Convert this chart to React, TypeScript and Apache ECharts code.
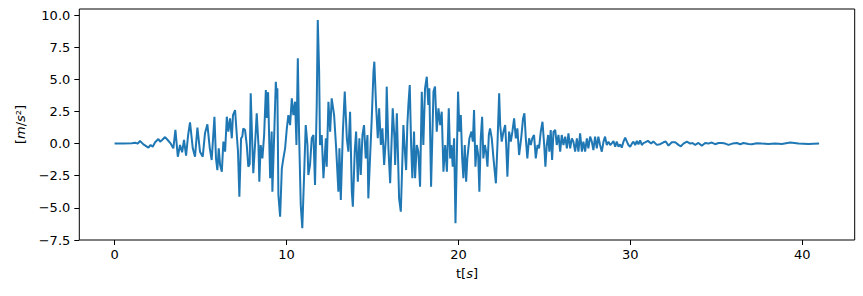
import React, { useEffect, useRef } from "react";
import * as echarts from "echarts";

const X_TICKS = [0, 10, 20, 30, 40];
const Y_TICKS = [-7.5, -5, -2.5, 0, 2.5, 5, 7.5, 10];

const T = [
  0, 0.5, 1.0, 1.2, 1.35, 1.48, 1.68, 1.97, 2.1, 2.22, 2.36, 2.55, 2.65, 2.78, 2.94, 3.09, 3.27, 3.42, 3.54, 3.68,
  3.81, 3.93, 4.04, 4.16, 4.28, 4.39, 4.55, 4.68, 4.82, 4.97, 5.13, 5.26, 5.4, 5.54, 5.65, 5.81, 5.9, 5.98, 6.06, 6.14,
  6.24, 6.33, 6.43, 6.53, 6.62, 6.72, 6.82, 6.89, 7.01, 7.11, 7.18, 7.26, 7.36, 7.43, 7.49, 7.59, 7.69, 7.78, 7.86, 7.92,
  8.0, 8.07, 8.17, 8.27, 8.37, 8.42, 8.5, 8.6, 8.7, 8.8, 8.86, 8.93, 9.05, 9.14, 9.18, 9.28, 9.38, 9.44, 9.47, 9.53,
  9.63, 9.73, 9.82, 9.92, 10.02, 10.11, 10.21, 10.31, 10.4, 10.5, 10.58, 10.66, 10.73, 10.83, 10.92, 11.02, 11.12, 11.22, 11.27, 11.37,
  11.47, 11.57, 11.66, 11.76, 11.82, 11.9, 11.95, 12.05, 12.15, 12.29, 12.34, 12.44, 12.54, 12.63, 12.77, 12.89, 13.02, 13.08, 13.16, 13.28,
  13.39, 13.51, 13.6, 13.7, 13.8, 13.86, 13.97, 14.05, 14.15, 14.24, 14.32, 14.42, 14.51, 14.61, 14.71, 14.76, 14.86, 14.96, 15.06, 15.11,
  15.21, 15.31, 15.39, 15.49, 15.58, 15.68, 15.78, 15.83, 15.93, 16.03, 16.12, 16.18, 16.28, 16.32, 16.42, 16.47, 16.55, 16.65, 16.71, 16.8,
  16.9, 16.96, 17.03, 17.09, 17.17, 17.25, 17.32, 17.42, 17.48, 17.58, 17.67, 17.77, 17.87, 17.96, 18.06, 18.16, 18.25, 18.31, 18.41, 18.55,
  18.64, 18.74, 18.84, 18.94, 19.03, 19.13, 19.23, 19.33, 19.44, 19.52, 19.59, 19.67, 19.75, 19.83, 19.91, 19.98, 20.06, 20.14, 20.22, 20.29,
  20.37, 20.45, 20.52, 20.64, 20.76, 20.84, 20.91, 20.99, 21.07, 21.15, 21.22, 21.3, 21.38, 21.45, 21.54, 21.61, 21.69, 21.77, 21.84, 21.94,
  22.04, 22.18, 22.27, 22.37, 22.43, 22.52, 22.62, 22.72, 22.78, 22.85, 22.95, 23.05, 23.14, 23.24, 23.34, 23.43, 23.53, 23.65, 23.76, 23.84,
  23.92, 24.01, 24.11, 24.21, 24.3, 24.4, 24.5, 24.6, 24.69, 24.79, 24.89, 24.99, 25.06, 25.14, 25.22, 25.29, 25.37, 25.45, 25.53, 25.63,
  25.72, 25.82, 25.92, 26.01, 26.11, 26.21, 26.31, 26.4, 26.5, 26.6, 26.69, 26.79, 26.89, 26.98, 27.08, 27.18, 27.27, 27.37, 27.47, 27.56,
  27.66, 27.76, 27.85, 27.95, 28.05, 28.14, 28.24, 28.34, 28.44, 28.53, 28.63, 28.73, 28.83, 28.92, 29.02, 29.12, 29.21, 29.31, 29.41, 29.5,
  29.6, 29.7, 29.8, 29.89, 29.99, 30.09, 30.18, 30.28, 30.38, 30.47, 30.57, 30.67, 30.76, 30.86, 31.02, 31.21, 31.34, 31.54, 31.73, 31.93,
  32.06, 32.22, 32.41, 32.61, 32.8, 32.94, 33.09, 33.29, 33.48, 33.61, 33.77, 33.96, 34.16, 34.35, 34.54, 34.74, 34.93, 35.13, 35.32, 35.52,
  35.71, 35.94, 36.2, 36.39, 36.58, 36.87, 37.07, 37.36, 37.65, 38.03, 38.42, 38.81, 39.3, 39.78, 40.36, 40.98,
];

const A = [
  0, 0, 0.02, 0.06, 0, 0.2, -0.06, -0.32, -0.11, -0.24, 0.1, 0.36, 0.15, 0.3, 0.51, 0.28, -0.01, -0.37, 1.06, -1.02,
  -0.11, -0.68, 0.28, -0.94, 0.67, 1.65, -0.37, -1.02, 1.24, -0.63, -1.02, 0.8, 1.5, -0.37, -1.28, 2.09, -1.15, -2.06, -0.37, -1.67,
  -2.19, 0.15, -0.63, 2.09, 0.93, 1.96, 0.41, 2.22, 2.61, 0.67, -0.63, -4.13, 0.41, 0.54, 1.18, 1.06, -0.11, -1.8, -1.61, 3.91,
  0.41, -2.31, -0.11, 2.35, -0.11, -2.96, -0.11, -1.15, 0.67, 4.17, 2.0, 4.0, -2.7, 0.93, -3.74, 0.41, 4.81, 3.52, 4.3, -4.0,
  -5.69, -1.93, -1.15, -0.37, 1.18, 2.22, 1.44, 3.52, 2.22, 3.26, -0.11, 6.63, 0.93, -4.78, -6.59, -2.7, 1.44, -0.11, -2.44, -1.67,
  0.41, 0.67, -3.22, 3.0, 9.61, 5.59, -0.11, 0.67, -2.7, 0.41, -1.8, 3.26, 0.93, 3.52, 2.22, -0.37, -3.74, -0.37, -4.39, 0.93,
  4.04, 0.41, -0.63, 2.48, -3.74, -4.91, -0.63, 0.93, -2.96, 0.41, -2.44, 0.67, 1.44, -1.15, 0.67, -4.26, -1.15, 1.96, 5.59, 6.37,
  3.0, 0.41, 2.74, -0.11, 1.18, -1.67, 0.41, 4.43, -0.37, -3.09, 0.41, 2.74, 0.41, -1.67, 2.35, -0.11, -4.26, -5.3, -2.7, 1.44,
  -0.89, -2.06, 1.44, 3.0, 4.56, -0.11, -2.7, 0.93, -2.7, -0.11, -0.63, -3.35, 4.04, -0.11, 4.3, 5.2, 3.0, 4.3, -3.35, 4.04,
  4.43, 0.93, 2.74, 1.44, 2.48, -2.19, -0.11, -2.19, 2.74, -1.15, -0.11, -1.8, 0.41, -6.2, -0.89, 4.04, 0.93, 2.22, -1.15, -2.7,
  -0.11, -2.96, -1.15, 0.41, 0.93, 0.15, 2.61, -1.8, -0.11, -0.89, -3.74, 0.41, 2.09, -1.15, -0.11, -0.63, -1.8, 0.67, 1.18, 0.41,
  -1.15, -3.09, -0.11, 3.91, 1.44, 0.15, 0.93, 1.44, -0.11, -2.57, 0.93, 0.15, 0.93, 1.96, 0.41, 1.18, -0.89, 0.41, 1.96, 2.35,
  0.41, -1.15, 0.41, -0.11, 0.41, 0.67, -1.15, -0.11, -0.37, 0.93, 1.7, -0.11, -1.8, -0.11, 0.67, -0.63, 1.06, -1.28, 0.93, 1.06,
  -0.11, 0.67, -0.63, 0.67, -0.11, 0.54, -0.37, 0.8, -0.37, 0.41, 0.15, -0.63, 0.41, -0.63, 0.8, -0.63, 0.15, -0.63, 0.41, -0.37,
  0.54, 0.15, -0.5, 0.54, -0.37, 0.54, -0.11, -0.63, 0.15, 0.54, -0.11, 0.15, -0.11, 0.02, 0.2, -0.24, 0.15, -0.24, -0.06, -0.32,
  0.15, 0.46, 0.15, -0.11, -0.24, -0.01, 0.15, -0.11, 0.2, -0.06, 0.25, -0.11, 0.04, 0.1, 0.21, 0, 0.16, -0.1, -0.05, 0.1,
  0.16, -0.16, 0.1, 0.1, -0.1, -0.21, 0, 0.16, 0, 0.05, -0.1, 0.05, -0.16, 0.05, 0, 0.08, -0.05, 0.05, 0.05, 0,
  -0.1, 0, 0.05, -0.05, 0.05, -0.03, -0.05, 0.03, 0, -0.03, 0, -0.03, 0.08, 0, -0.03, 0,
];

const FONT = "DejaVu Sans";

export default function App() {
  const ref = useRef<HTMLDivElement>(null);
  useEffect(() => {
    if (!ref.current) return;
    const chart = echarts.init(ref.current, undefined, { renderer: "svg" });
    const data = T.map((t, i) => [t, A[i]]);
    const fmt = (v: number) => v.toFixed(1).replace("-", "\u2212");
    chart.setOption({
      animation: false,
      backgroundColor: "#fff",
      grid: {
        left: 79.3,
        top: 9,
        width: 775.4,
        height: 231,
        show: true,
        borderColor: "#000",
        borderWidth: 1,
        backgroundColor: "transparent",
      },
      xAxis: {
        type: "value",
        min: -2.05,
        max: 43.05,
        axisLine: { show: false, onZero: false },
        splitLine: { show: false },
        axisTick: { show: true, length: 5, lineStyle: { color: "#000", width: 1 }, customValues: X_TICKS },
        axisLabel: { customValues: X_TICKS, color: "#000", fontSize: 13, fontFamily: FONT, margin: 8 },
        name: "t[{i|s}]",
        nameLocation: "middle",
        nameGap: 27,
        nameTextStyle: {
          color: "#000",
          fontSize: 13,
          fontFamily: FONT,
          rich: { i: { fontStyle: "italic", fontSize: 13, fontFamily: FONT, color: "#000" } },
        },
      },
      yAxis: {
        type: "value",
        min: -7.5,
        max: 10.47,
        axisLine: { show: false, onZero: false },
        splitLine: { show: false },
        axisTick: { show: true, length: 5, lineStyle: { color: "#000", width: 1 }, customValues: Y_TICKS },
        axisLabel: { customValues: Y_TICKS, color: "#000", fontSize: 13, fontFamily: FONT, margin: 9, formatter: fmt },
        name: "[{i|m}/{i|s}\u00b2]",
        nameLocation: "middle",
        nameRotate: 90,
        nameGap: 52,
        nameTextStyle: {
          color: "#000",
          fontSize: 13,
          fontFamily: FONT,
          rich: { i: { fontStyle: "italic", fontSize: 13, fontFamily: FONT, color: "#000" } },
        },
      },
      series: [
        {
          type: "line",
          data,
          symbol: "none",
          showSymbol: false,
          lineStyle: { color: "#1f77b4", width: 2 },
          emphasis: { disabled: true },
        },
      ],
    });
    return () => chart.dispose();
  }, []);
  return (
    <div
      ref={ref}
      style={{ position: "fixed", left: 0, top: 0, width: 863, height: 296, background: "#fff" }}
    />
  );
}
